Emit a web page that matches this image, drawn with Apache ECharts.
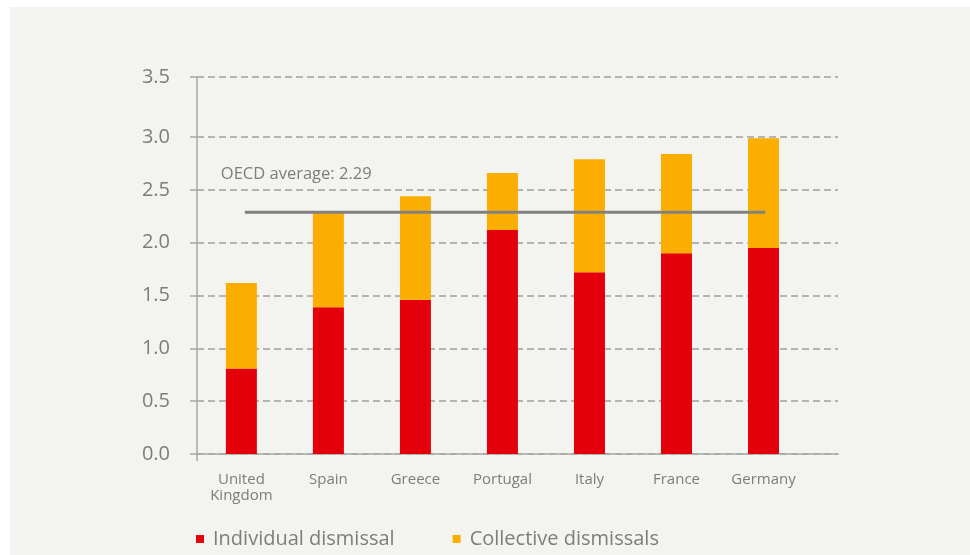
<!DOCTYPE html>
<html>
<head>
<meta charset="utf-8">
<script src="https://cdn.jsdelivr.net/npm/echarts@6/dist/echarts.min.js"></script>
<style>
  html, body { margin: 0; padding: 0; background: #ffffff; }
  #chart { position: absolute; left: 10px; top: 7px; width: 960px; height: 548px; background: #f3f3ef; }
</style>
</head>
<body>
<div id="chart"></div>
<script>
// data
var countries = ['United\nKingdom', 'Spain', 'Greece', 'Portugal', 'Italy', 'France', 'Germany'];
var individual = [0.81, 1.39, 1.46, 2.12, 1.72, 1.90, 1.95];
var collective = [0.81, 0.91, 0.98, 0.54, 1.07, 0.94, 1.04];
var oecdAvg = 2.29;
var oecdFrom = 0.04, oecdTo = 6.02;   // the average line runs from UK to Germany
var yTickValues = [0, 0.5, 1, 1.5, 2, 2.5, 3, 3.57];
var yTickLabels = ['0.0', '0.5', '1.0', '1.5', '2.0', '2.5', '3.0', '3.5'];
var xMin = -0.51, xMax = 6.856;

var textGrey = '#7d7d7d';
var font = '"Open Sans", sans-serif';

var idx = countries.map(function (c, i) { return i; });

var myChart = echarts.init(document.getElementById('chart'), null, { renderer: 'canvas' });
var option = {
    animation: false,
    backgroundColor: '#f3f3ef',
    grid: { left: 187, right: 132, top: 70, bottom: 101, containLabel: false },
    legend: {
        left: 186,
        top: 522,
        padding: 0,
        icon: 'rect',
        itemWidth: 8,
        itemHeight: 8,
        itemGap: 58,
        data: ['Individual dismissal', 'Collective dismissals'],
        textStyle: { color: textGrey, fontSize: 20, fontFamily: font, padding: [0, 0, 0, 4] }
    },
    xAxis: {
        type: 'value',
        min: xMin,
        max: xMax,
        axisLine: { show: true, onZero: false, lineStyle: { color: '#a8a8a8', width: 1.5 } },
        axisTick: { show: true, customValues: [xMin], length: 7, lineStyle: { color: '#a8a8a8', width: 1.5 } },
        splitLine: { show: false },
        axisLabel: {
            customValues: idx,
            formatter: function (v) { return countries[Math.round(v)]; },
            color: textGrey,
            fontSize: 15,
            fontFamily: font,
            lineHeight: 16,
            margin: 18
        }
    },
    yAxis: {
        type: 'value',
        min: 0,
        max: 3.57,
        axisLine: { show: true, onZero: false, lineStyle: { color: '#a8a8a8', width: 1.5 } },
        axisTick: { show: true, customValues: yTickValues, length: 7, lineStyle: { color: '#a8a8a8', width: 1.5 } },
        splitLine: { show: true, lineStyle: { color: '#a0a0a0', width: 1.5, type: [7, 4] } },
        axisLabel: {
            show: true,
            customValues: yTickValues,
            formatter: function (v) { return yTickLabels[yTickValues.indexOf(v)]; },
            color: textGrey,
            fontSize: 20,
            fontFamily: font,
            margin: 27
        }
    },
    series: [
        {
            name: 'Individual dismissal',
            type: 'bar',
            stack: 'total',
            barWidth: 31,
            itemStyle: { color: '#e3000b' },
            encode: { x: 1, y: 0 },
            data: individual.map(function (v, i) { return [v, i]; })
        },
        {
            name: 'Collective dismissals',
            type: 'bar',
            stack: 'total',
            barWidth: 31,
            itemStyle: { color: '#fbae00' },
            encode: { x: 1, y: 0 },
            data: collective.map(function (v, i) { return [v, i]; })
        },
        {
            name: 'OECD average',
            type: 'line',
            symbol: 'circle',
            symbolSize: 0,
            showSymbol: true,
            lineStyle: { color: '#818181', width: 3 },
            itemStyle: { color: '#818181' },
            silent: true,
            data: [
                {
                    value: [oecdFrom, oecdAvg],
                    label: {
                        show: true,
                        position: [-24, -46],
                        formatter: 'OECD average: ' + oecdAvg,
                        color: textGrey,
                        fontSize: 16.5,
                        fontFamily: font
                    }
                },
                [oecdTo, oecdAvg]
            ]
        }
    ]
};
myChart.setOption(option);
</script>
</body>
</html>
